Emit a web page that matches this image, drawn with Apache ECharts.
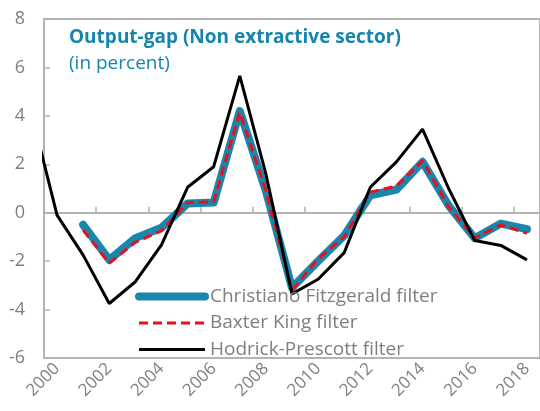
<!DOCTYPE html>
<html>
<head>
<meta charset="utf-8">
<script src="https://cdn.jsdelivr.net/npm/echarts@6/dist/echarts.min.js"></script>
<style>
  html, body { margin: 0; padding: 0; background: #fff; }
  #chart { width: 540px; height: 411px; }
</style>
</head>
<body>
<div id="chart"></div>
<script>
// 年份（HP 滤波多一个 1999 点，被左边界裁掉）
const hpYears = [1999, 2000, 2001, 2002, 2003, 2004, 2005, 2006, 2007, 2008, 2009,
  2010, 2011, 2012, 2013, 2014, 2015, 2016, 2017, 2018];
const years = [2000, 2001, 2002, 2003, 2004, 2005, 2006, 2007, 2008, 2009,
  2010, 2011, 2012, 2013, 2014, 2015, 2016, 2017, 2018];
const yearLabels = years.map(y => String(y));

// 三条滤波结果（百分比）
const hpValues = [4.2, -0.1, -1.75, -3.75, -2.85, -1.33, 1.05, 1.9, 5.65, 1.6, -3.35,
  -2.75, -1.65, 1.05, 2.1, 3.45, 1.0, -1.15, -1.35, -1.95];
const cfValues = [null, -0.5, -1.95, -1.05, -0.62, 0.38, 0.42, 4.2, 0.9, -3.1,
  -2.0, -0.95, 0.72, 0.95, 2.1, 0.3, -1.05, -0.45, -0.68];
const bkValues = [null, -0.72, -2.08, -1.22, -0.75, 0.42, 0.45, 4.15, 0.9, -3.2,
  -1.9, -1.0, 0.85, 1.1, 2.15, 0.25, -1.05, -0.5, -0.85];

const greyLine = '#b3b3b3';
const greyText = '#7f7f7f';
const titleBlue = '#1585ad';
const cfColor = '#1b86ab';
const bkColor = '#e8101c';
const font = '"Open Sans", "Noto Sans", sans-serif';

function pairs(xs, ys) {
  return xs.map((x, i) => [x, ys[i]]);
}

const chart = echarts.init(document.getElementById('chart'));
const option = {
  animation: false,
  textStyle: { fontFamily: font },
  title: {
    text: 'Output-gap (Non extractive sector)',
    subtext: '(in percent)',
    left: 69,
    top: 28,
    itemGap: 7,
    padding: 0,
    textStyle: { fontFamily: font, fontSize: 19, fontWeight: 'bold', color: titleBlue },
    subtextStyle: { fontFamily: font, fontSize: 19, color: titleBlue }
  },
  legend: {
    orient: 'vertical',
    left: 135,
    top: 287,
    itemWidth: 66,
    itemHeight: 14,
    itemGap: 7.5,
    padding: 0,
    itemStyle: { opacity: 0 },
    data: [
      { name: 'Christiano Fitzgerald filter', lineStyle: { color: cfColor, width: 8, cap: 'round' } },
      { name: 'Baxter King filter', lineStyle: { color: bkColor, width: 3, type: [9, 5] } },
      { name: 'Hodrick-Prescott filter', lineStyle: { color: '#000', width: 3 } }
    ],
    textStyle: { fontFamily: font, fontSize: 19, lineHeight: 18, color: greyText }
  },
  grid: {
    left: 44,
    top: 19,
    width: 500,
    bottom: 53,
    show: true,
    borderColor: greyLine,
    borderWidth: 2
  },
  xAxis: [
    {
      // 数据用的数值轴（隐藏）
      type: 'value',
      min: 1999.5,
      max: 2018.5,
      show: false,
      position: 'bottom',
      axisLine: { onZero: false }
    },
    {
      // 底部年份标签
      type: 'category',
      data: yearLabels,
      boundaryGap: true,
      position: 'bottom',
      axisLine: { show: false, onZero: false },
      axisTick: { show: false },
      axisLabel: {
        interval: 1,
        rotate: 45,
        margin: 8,
        fontFamily: font,
        fontSize: 17,
        color: greyText
      }
    },
    {
      // 零线和刻度
      type: 'category',
      data: yearLabels,
      boundaryGap: true,
      position: 'bottom',
      axisLine: { show: true, onZero: true, lineStyle: { color: greyLine, width: 2 } },
      axisTick: { show: true, interval: 1, inside: true, length: 6, lineStyle: { color: greyLine, width: 1.5 } },
      axisLabel: { show: false }
    }
  ],
  yAxis: {
    type: 'value',
    min: -6,
    max: 8,
    interval: 2,
    axisLine: { show: true, onZero: false, lineStyle: { color: greyLine, width: 2 } },
    axisTick: { show: true, inside: true, length: 6, lineStyle: { color: greyLine, width: 1.5 } },
    splitLine: { show: false },
    axisLabel: { margin: 19, fontFamily: font, fontSize: 18, color: greyText }
  },
  series: [
    {
      name: 'Christiano Fitzgerald filter',
      type: 'line',
      xAxisIndex: 0,
      data: pairs(years, cfValues),
      symbol: 'none',
      lineStyle: { color: cfColor, width: 8, cap: 'round', join: 'round' },
      itemStyle: { color: cfColor }
    },
    {
      name: 'Baxter King filter',
      type: 'line',
      xAxisIndex: 0,
      data: pairs(years, bkValues),
      symbol: 'none',
      lineStyle: { color: bkColor, width: 3, type: [9, 5] },
      itemStyle: { color: bkColor }
    },
    {
      name: 'Hodrick-Prescott filter',
      type: 'line',
      xAxisIndex: 0,
      data: pairs(hpYears, hpValues),
      symbol: 'none',
      clip: true,
      lineStyle: { color: '#000', width: 3 },
      itemStyle: { color: '#000' }
    }
  ]
};
chart.setOption(option);
</script>
</body>
</html>
